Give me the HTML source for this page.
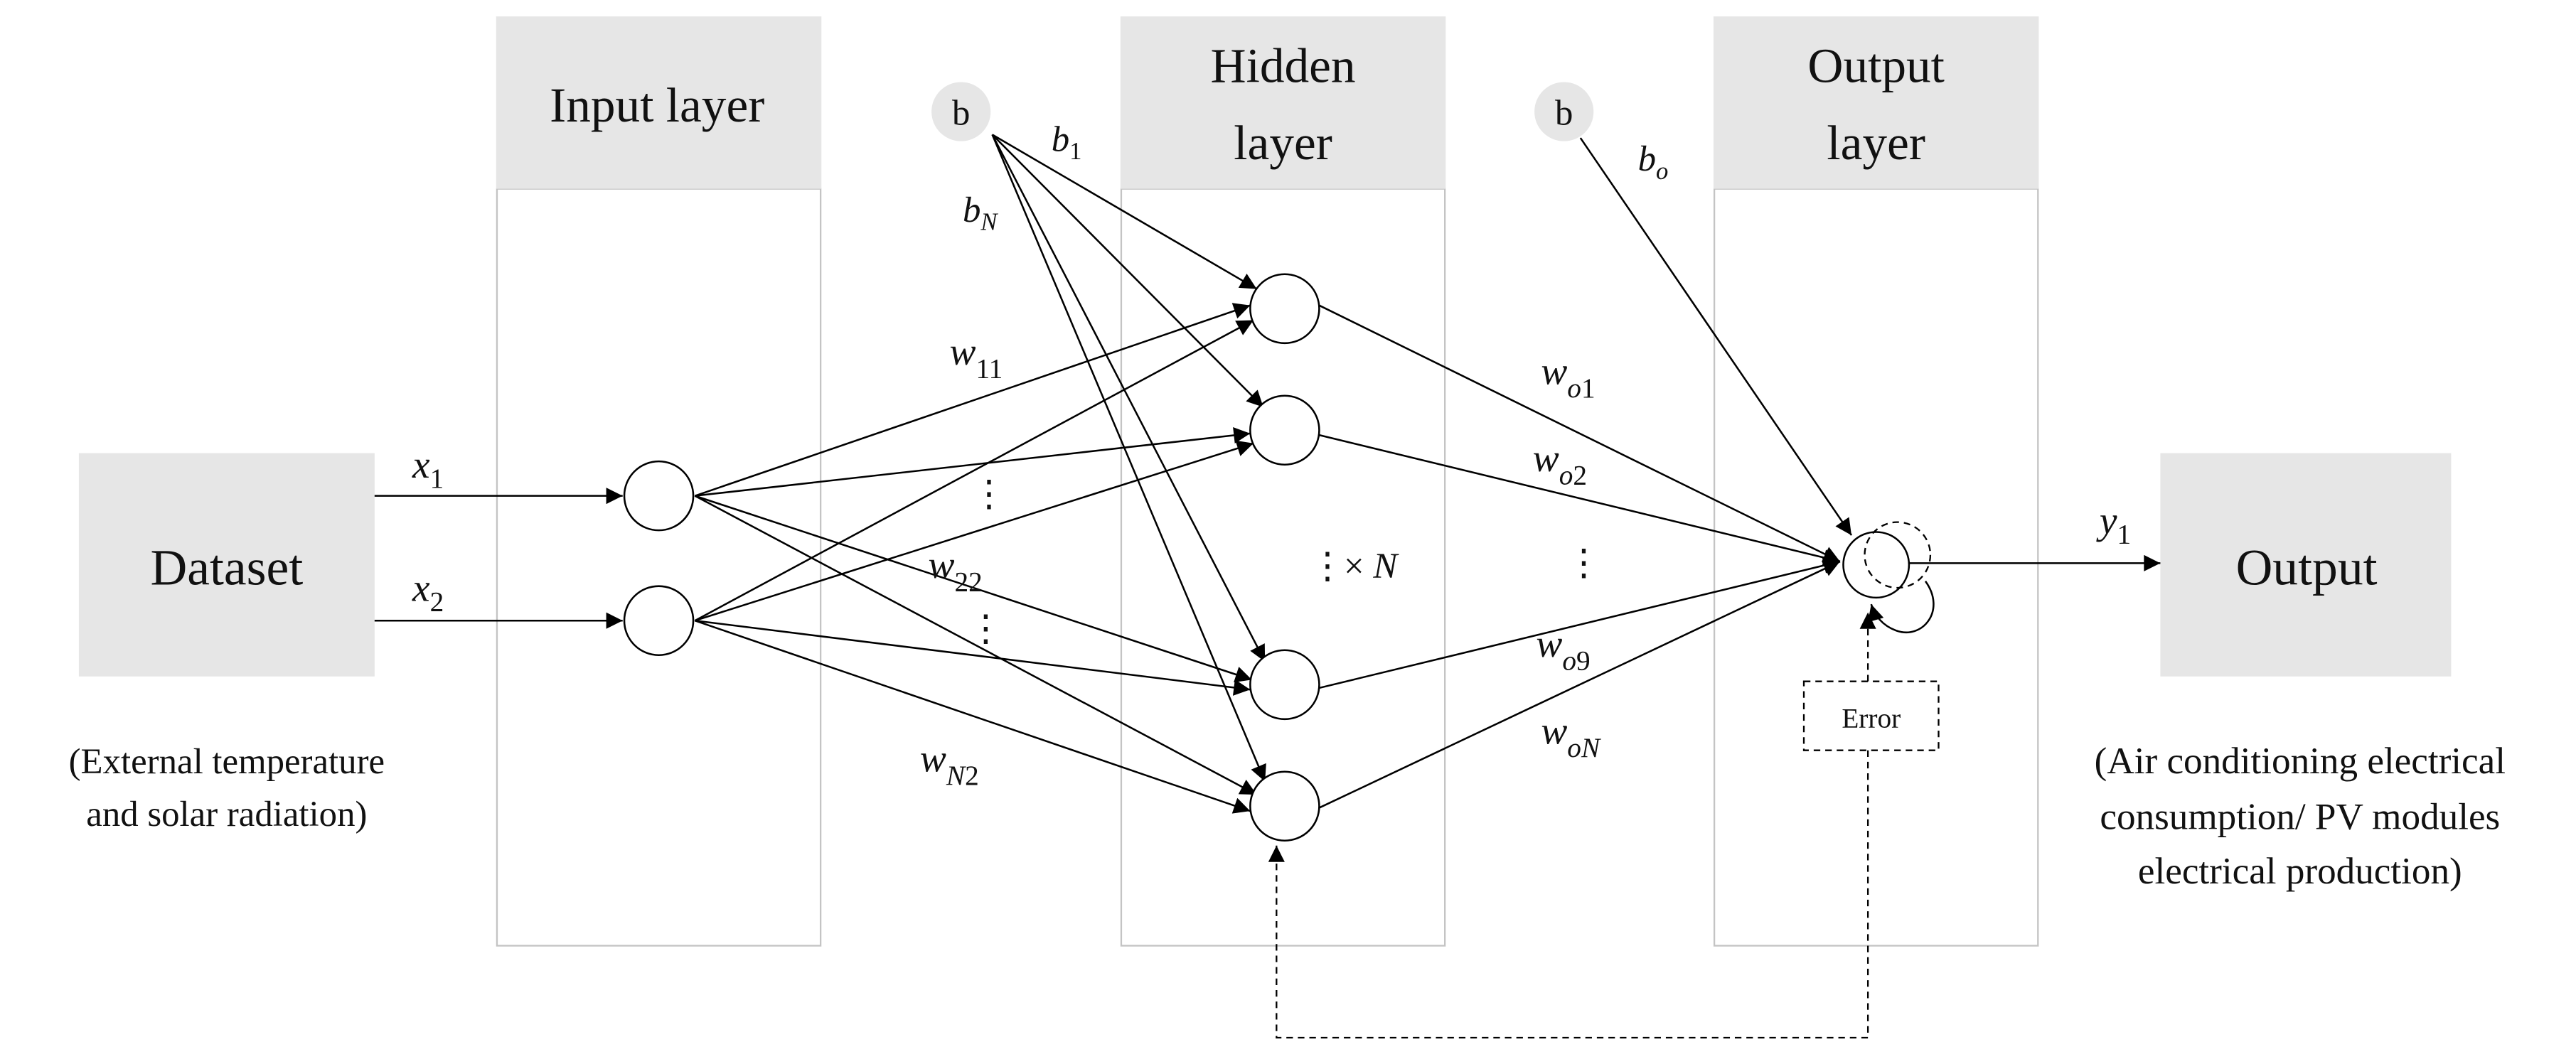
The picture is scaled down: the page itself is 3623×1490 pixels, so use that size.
<!DOCTYPE html>
<html><head><meta charset="utf-8"><style>
html,body{margin:0;padding:0;background:#fff;}
svg{display:block;}
text{font-family:"Liberation Serif",serif;fill:#111;}
.m{font-style:italic;font-family:"DejaVu Serif","Liberation Serif",serif;}
</style></head><body>
<svg width="3623" height="1490" viewBox="0 0 1568 645" preserveAspectRatio="none" xmlns="http://www.w3.org/2000/svg">
<defs>
<marker id="a" viewBox="0 0 10 10" refX="10" refY="5" markerWidth="11" markerHeight="10" markerUnits="userSpaceOnUse" orient="auto"><path d="M0,0 L10,5 L0,10 z" fill="#000"/></marker>
</defs>
<rect x="48" y="276" width="180" height="136" fill="#e6e6e6"/>
<rect x="1315" y="276" width="177" height="136" fill="#e6e6e6"/>
<g fill="none" stroke="#c4c4c4" stroke-width="1">
<rect x="302.5" y="115" width="197" height="461"/>
<rect x="682.5" y="115" width="197" height="461"/>
<rect x="1043.5" y="115" width="197" height="461"/>
</g>
<rect x="302" y="10" width="198" height="105" fill="#e6e6e6"/>
<rect x="682" y="10" width="198" height="105" fill="#e6e6e6"/>
<rect x="1043" y="10" width="198" height="105" fill="#e6e6e6"/>
<text x="400" y="74" font-size="30" text-anchor="middle">Input layer</text>
<text x="781" y="50" font-size="30" text-anchor="middle">Hidden</text>
<text x="781" y="97" font-size="30" text-anchor="middle">layer</text>
<text x="1142" y="50" font-size="30" text-anchor="middle">Output</text>
<text x="1142" y="97" font-size="30" text-anchor="middle">layer</text>
<text x="138" y="356" font-size="31" text-anchor="middle">Dataset</text>
<text x="1404" y="356" font-size="31" text-anchor="middle">Output</text>
<text x="138" y="471" font-size="22" text-anchor="middle">(External temperature</text>
<text x="138" y="503" font-size="22" text-anchor="middle">and solar radiation)</text>
<text x="1400" y="471" font-size="23" text-anchor="middle">(Air conditioning electrical</text>
<text x="1400" y="505" font-size="23" text-anchor="middle">consumption/ PV modules</text>
<text x="1400" y="538" font-size="23" text-anchor="middle">electrical production)</text>
<circle cx="585" cy="68" r="18" fill="#e6e6e6"/>
<text x="585" y="76" font-size="22" text-anchor="middle">b</text>
<circle cx="952" cy="68" r="18" fill="#e6e6e6"/>
<text x="952" y="76" font-size="22" text-anchor="middle">b</text>
<g stroke="#000" stroke-width="1.1" fill="none" marker-end="url(#a)">
<line x1="228" y1="302" x2="379" y2="302"/>
<line x1="228" y1="378" x2="379" y2="378"/>
<line x1="423" y1="302" x2="761" y2="186"/>
<line x1="423" y1="302" x2="761" y2="264"/>
<line x1="423" y1="302" x2="762" y2="414"/>
<line x1="423" y1="302" x2="765" y2="484"/>
<line x1="423" y1="378" x2="763" y2="195"/>
<line x1="423" y1="378" x2="763" y2="270"/>
<line x1="423" y1="378" x2="761" y2="420"/>
<line x1="423" y1="378" x2="761" y2="494"/>
<line x1="604" y1="82" x2="765" y2="176"/>
<line x1="604" y1="82" x2="769" y2="248"/>
<line x1="604" y1="82" x2="770" y2="403"/>
<line x1="604" y1="82" x2="770" y2="476"/>
<line x1="803" y1="186" x2="1120" y2="342"/>
<line x1="803" y1="265" x2="1120" y2="342"/>
<line x1="803" y1="419" x2="1120" y2="342"/>
<line x1="803" y1="492" x2="1120" y2="342"/>
<line x1="962" y1="84" x2="1127" y2="326"/>
<line x1="1162" y1="343" x2="1315" y2="343"/>
</g>
<g fill="#fff" stroke="#000" stroke-width="1.1">
<circle cx="401" cy="302" r="21"/>
<circle cx="401" cy="378" r="21"/>
<circle cx="782" cy="188" r="21"/>
<circle cx="782" cy="262" r="21"/>
<circle cx="782" cy="417" r="21"/>
<circle cx="782" cy="491" r="21"/>
<circle cx="1142" cy="344" r="20"/>
</g>
<circle cx="1155" cy="338" r="20" fill="none" stroke="#000" stroke-width="1" stroke-dasharray="4,3"/>
<path d="M1172,354 C1185,372 1170,390 1154,384 C1146,381 1141,375 1139,368" fill="none" stroke="#000" stroke-width="1.1" marker-end="url(#a)"/>
<rect x="1098" y="415" width="82" height="42" fill="#fff" stroke="#000" stroke-width="1" stroke-dasharray="4,3"/>
<text x="1139" y="443" font-size="17" text-anchor="middle">Error</text>
<g stroke="#000" stroke-width="1" fill="none" stroke-dasharray="4,3">
<path d="M1137,415 L1137,373" marker-end="url(#a)"/>
<path d="M1137,457 L1137,632 L777,632 L777,515" marker-end="url(#a)"/>
</g>
<g class="m">
<text x="251" y="291" font-size="24">x<tspan font-size="17" dy="6" font-style="normal">1</tspan></text>
<text x="251" y="366" font-size="24">x<tspan font-size="17" dy="6" font-style="normal">2</tspan></text>
<text x="640" y="92" font-size="22">b<tspan font-size="15" dy="5" font-style="normal">1</tspan></text>
<text x="586" y="135" font-size="22">b<tspan font-size="15" dy="5">N</tspan></text>
<text x="997" y="104" font-size="22">b<tspan font-size="15" dy="5">o</tspan></text>
<text x="578" y="222" font-size="24">w<tspan font-size="17" dy="8" font-style="normal">11</tspan></text>
<text x="565" y="352" font-size="24">w<tspan font-size="17" dy="8" font-style="normal">22</tspan></text>
<text x="560" y="470" font-size="24">w<tspan font-size="17" dy="8">N</tspan><tspan font-size="17" font-style="normal">2</tspan></text>
<text x="938" y="234" font-size="24">w<tspan font-size="17" dy="8">o</tspan><tspan font-size="17" font-style="normal">1</tspan></text>
<text x="933" y="287" font-size="24">w<tspan font-size="17" dy="8">o</tspan><tspan font-size="17" font-style="normal">2</tspan></text>
<text x="935" y="400" font-size="24">w<tspan font-size="17" dy="8">o</tspan><tspan font-size="17" font-style="normal">9</tspan></text>
<text x="938" y="453" font-size="24">w<tspan font-size="17" dy="8">oN</tspan></text>
<text x="1278" y="325" font-size="24">y<tspan font-size="17" dy="6" font-style="normal">1</tspan></text>
<text x="818" y="352" font-size="22"><tspan font-style="normal">×</tspan> N</text>
</g>
<g font-size="22" text-anchor="middle">
<text x="602" y="308">⋮</text>
<text x="600" y="390">⋮</text>
<text x="964" y="350">⋮</text>
<text x="808" y="352">⋮</text>
</g>
</svg>
</body></html>
